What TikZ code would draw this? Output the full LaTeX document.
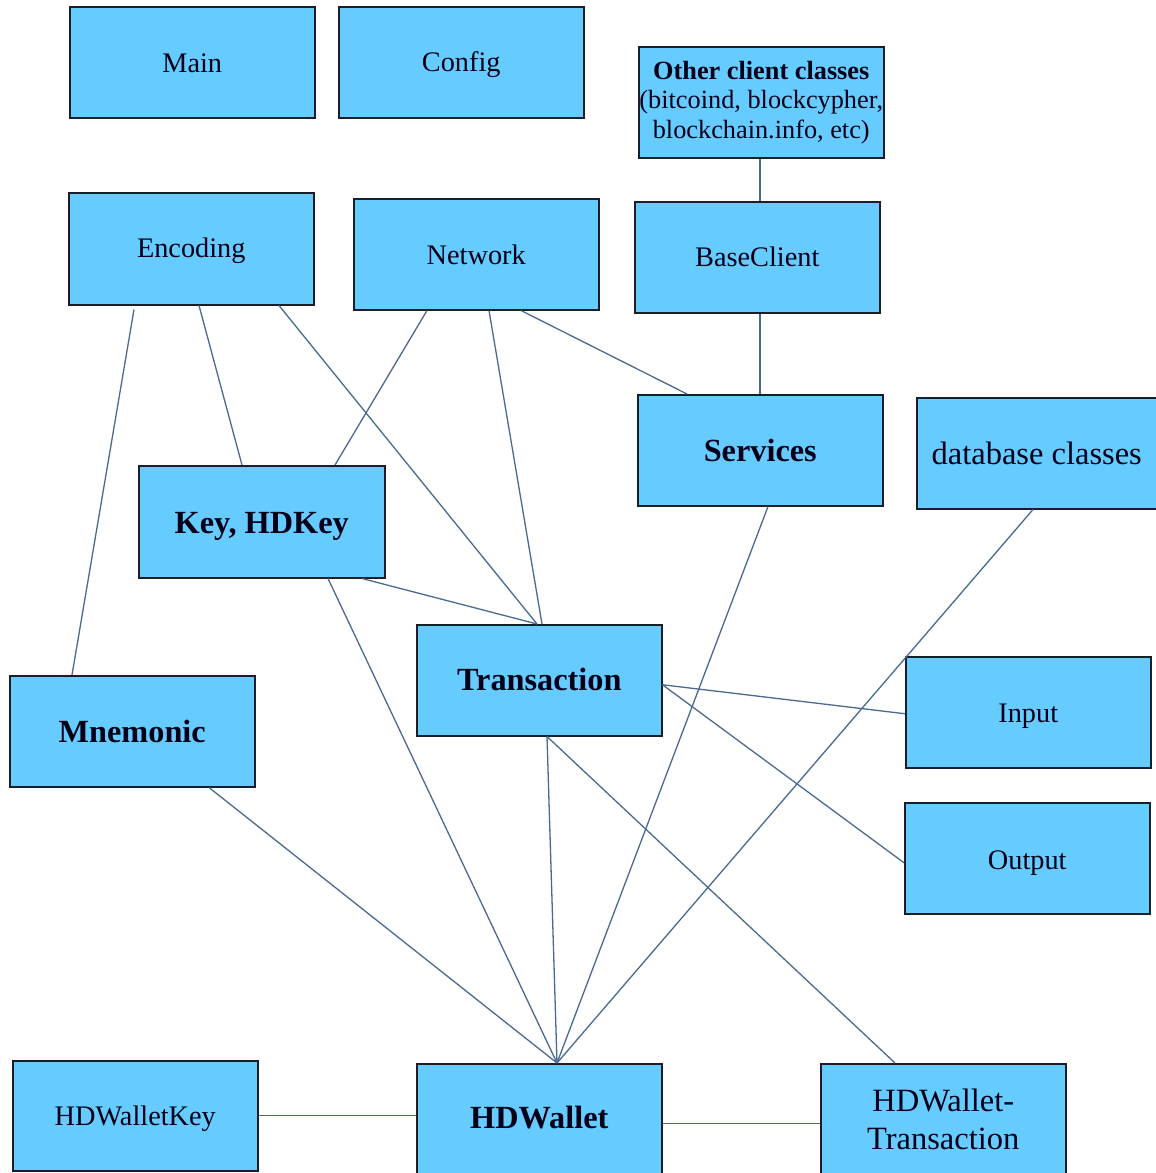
\documentclass[tikz,border=0pt]{standalone}
\usepackage{fontspec}
\setmainfont{Liberation Serif}
\definecolor{boxfill}{RGB}{102,204,255}
\definecolor{boxdraw}{RGB}{26,30,40}
\definecolor{linkcol}{RGB}{74,106,145}
\newcommand{\lowr}[2]{\raisebox{-#1}[\height][\depth]{#2}}
\begin{document}
\begin{tikzpicture}[x=1pt,y=-1pt,
  cls/.style={draw=boxdraw,line width=1.5pt,fill=boxfill,anchor=north west,
    minimum width=245pt,minimum height=111pt,inner sep=0pt,align=center,
    font=\fontsize{28.3}{34}\selectfont,text=black!90!blue},
  clsb/.style={cls,font=\fontsize{32.3}{38}\selectfont\bfseries},
  clsl/.style={cls,font=\fontsize{32.5}{38.5}\selectfont},
  clso/.style={cls,font=\fontsize{26.3}{29.5}\selectfont},
  link/.style={draw=linkcol,line width=1.3pt}]
\useasboundingbox (0,0) rectangle (1156,1173);
\clip (0,0) rectangle (1156,1173);
\fill[white] (0,0) rectangle (1156,1173);
% boxes
\node[cls] (main) at (69,6) {\lowr{1pt}{Main}};
\node[cls] (config) at (338,6) {\lowr{2pt}{Config}};
\node[clso] (other) at (638,46) {\textbf{Other client classes}\\(bitcoind, blockcypher,\\blockchain.info, etc)};
\node[cls,minimum height=112pt] (enc) at (68,192) {\lowr{2pt}{Encoding}};
\node[cls] (net) at (353,198) {\lowr{1pt}{Network}};
\node[cls] (base) at (634,201) {BaseClient};
\node[clsb] (serv) at (637,394) {Services};
\node[clsl,minimum width=250pt] (db) at (916,397) {\hspace*{-5pt}database classes\hspace*{5pt}};
\node[clsb,minimum width=246pt,minimum height=112pt] (key) at (138,465) {\lowr{5pt}{Key, HDKey}};
\node[clsb] (tx) at (416,624) {\lowr{-1pt}{Transaction}};
\node[clsb] (mnem) at (9,675) {Mnemonic};
\node[cls] (inp) at (905,656) {\lowr{4pt}{Input}};
\node[cls] (outp) at (904,802) {\lowr{5pt}{Output}};
\node[cls,minimum height=110pt] (hdkey) at (12,1060) {\lowr{3pt}{HDWalletKey}};
\node[clsb] (hdw) at (416,1063) {\lowr{-2pt}{HDWallet}};
\node[clsl] (hdtx) at (820,1063) {HDWallet-\\Transaction};
% connectors
\draw[link] ([xshift=122pt]other.south west) -- ([xshift=126pt]base.north west);
\draw[link] ([xshift=126pt]base.south west) -- ([xshift=123pt]serv.north west);
\draw[link] ([xshift=66pt,yshift=-4pt]enc.south west) -- ([xshift=63pt]mnem.north west);
\draw[link] ([xshift=131pt]enc.south west) -- ([xshift=104pt]key.north west);
\draw[link] ([xshift=211pt]enc.south west) -- ([xshift=121pt]tx.north west);
\draw[link] ([xshift=74pt]net.south west) -- ([xshift=197pt]key.north west);
\draw[link] ([xshift=136pt]net.south west) -- ([xshift=126pt]tx.north west);
\draw[link] ([xshift=168pt]net.south west) -- ([xshift=50pt]serv.north west);
\draw[link] ([xshift=224pt]key.south west) -- ([xshift=121pt]tx.north west);
\draw[link] ([xshift=190pt]key.south west) -- ([xshift=141pt]hdw.north west);
\draw[link] ([xshift=131pt]serv.south west) -- ([xshift=141pt]hdw.north west);
\draw[link] ([xshift=117pt]db.south west) -- ([xshift=141pt]hdw.north west);
\draw[link] ([yshift=-4.5pt]tx.east) -- ([yshift=-1.5pt]inp.west);
\draw[link] ([yshift=-4.5pt]tx.east) -- ([yshift=-4.5pt]outp.west);
\draw[link] ([xshift=131pt]tx.south west) -- ([xshift=141pt]hdw.north west);
\draw[link] ([xshift=131pt]tx.south west) -- ([xshift=75pt]hdtx.north west);
\draw[link] ([xshift=200pt]mnem.south west) -- ([xshift=141pt]hdw.north west);
\draw[link] (hdkey.east) -- (hdkey.east -| hdw.west);
\draw[link] ([yshift=-4.5pt]hdw.east) -- ([yshift=-4.5pt]hdw.east -| hdtx.west);
\end{tikzpicture}
\end{document}
